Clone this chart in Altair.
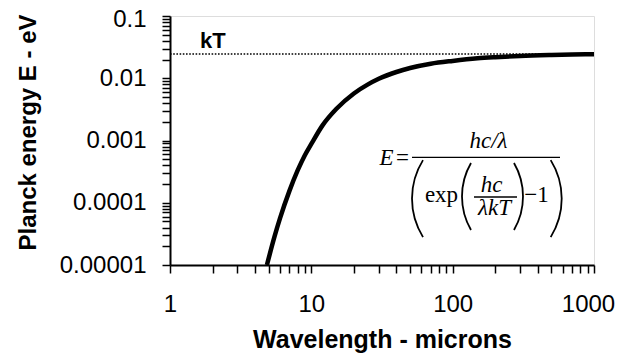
import math
import altair as alt
import pandas as pd

# ---- data ----
wavelength = [4.85, 5.5, 6, 7, 8, 9, 10, 12, 15, 20, 25, 30, 40, 50, 70,
              100, 150, 200, 300, 500, 700, 1000]
energy = [1.0e-5, 2.9e-5, 5.6e-5, 1.55e-4, 3.3e-4, 5.8e-4, 8.8e-4, 1.75e-3,
          3.2e-3, 5.7e-3, 7.9e-3, 9.8e-3, 0.0126, 0.0146, 0.0171, 0.0190,
          0.0209, 0.0218, 0.0228, 0.0236, 0.0240, 0.0243]
kT_value = 0.0246
kT_span = [1, 1000]
x_major = [1, 10, 100, 1000]
y_major = [0.00001, 0.0001, 0.001, 0.01, 0.1]

x_ticks = [m * 10 ** e for e in range(0, 3) for m in range(1, 10)] + [1000]
y_ticks = [float(f"{m}e{e}") for e in range(-5, -1) for m in range(1, 10)] + [0.1]

curve_df = pd.DataFrame({"lam": wavelength, "E": energy})
kt_df = pd.DataFrame({"lam": [kT_span[0]], "lam2": [kT_span[1]], "E": [kT_value]})

W, H = 424, 249
xs = alt.Scale(type="log", domain=[1, 1000], nice=False)
ys = alt.Scale(type="log", domain=[0.00001, 0.1], nice=False)

common_axis = dict(tickSize=8, tickWidth=1.5, tickColor="black", domainColor="black",
                   domainWidth=2, labelFontSize=24, labelColor="black",
                   labelFont="Liberation Sans", labelOverlap=False, labelFlush=False,
                   grid=False, titleFont="Liberation Sans", titleFontWeight="bold",
                   titleColor="black")

x_axis = alt.Axis(values=x_ticks, format="d",
                  labelExpr="indexof(" + str(x_major) + ", datum.value) >= 0 ? datum.label : ''",
                  labelOffset={"condition": {"test": "datum.value == 1000", "value": -6}, "value": 0},
                  labelPadding=19, title="Wavelength - microns", titleFontSize=25,
                  titleBaseline="alphabetic", titleY=82, **common_axis)
y_axis = alt.Axis(values=y_ticks, format=".5~f",
                  labelExpr="indexof([1e-05, 0.0001, 0.001, 0.01, 0.1], datum.value) >= 0 ? datum.label : ''",
                  labelOffset={"condition": {"test": "datum.value == 0.1", "value": 3.5}, "value": 0},
                  labelPadding=16, title="Planck energy E - eV", titleFontSize=24,
                  titleAngle=270, titleBaseline="alphabetic", titleAlign="center",
                  titleX=-135, titleY=116, **common_axis)

curve = alt.Chart(curve_df).mark_line(color="black", strokeWidth=4.5, interpolate="monotone").encode(
    x=alt.X("lam:Q", scale=xs, axis=x_axis),
    y=alt.Y("E:Q", scale=ys, axis=y_axis),
)
kt_line = alt.Chart(kt_df).mark_rule(color="black", strokeWidth=1.5, strokeDash=[1.6, 1.6]).encode(
    x=alt.X("lam:Q", scale=xs), x2="lam2:Q", y=alt.Y("E:Q", scale=ys)
)

layers = [kt_line, curve]


def text_layer(txt, x, y, size, font="Liberation Serif", style="normal", weight="normal", align="center"):
    return alt.Chart(pd.DataFrame({"t": [txt]})).mark_text(
        font=font, fontSize=size, fontStyle=style, fontWeight=weight, align=align,
        baseline="alphabetic", color="black"
    ).encode(text="t:N", x=alt.value(x), y=alt.value(y))


def bar_layer(x1, x2, y, w=1.3):
    return alt.Chart(pd.DataFrame({"t": [0]})).mark_rule(color="black", strokeWidth=w).encode(
        x=alt.value(x1), x2=alt.value(x2), y=alt.value(y))


def paren_layer(edge, yc, h, s, left=True, t=1.8):
    R = (h * h / 4 + s * s) / (2 * s)
    a = math.asin((h / 2) / R)
    if left:
        cx = edge + R
        mid = 3 * math.pi / 2
    else:
        cx = edge - R
        mid = math.pi / 2
    return alt.Chart(pd.DataFrame({"t": [0]})).mark_arc(color="black").encode(
        x=alt.value(cx), y=alt.value(yc),
        theta=alt.value(mid - a), theta2=alt.value(mid + a),
        radius=alt.value(R + t / 2), radius2=alt.value(R - t / 2))


# kT label
layers.append(text_layer("kT", 30, 32, 22, font="Liberation Sans", weight="bold", align="left"))

# formula
fs = 23
layers += [
    text_layer("E", 216.5, 149, fs, style="italic"),
    text_layer("=", 232.5, 149, fs),
    bar_layer(242, 390, 141.3),
    text_layer("hc/λ", 318.5, 132, fs, style="italic"),
    paren_layer(242, 182.6, 77, 11, left=True),
    paren_layer(391.7, 182.6, 77, 11, left=False),
    text_layer("exp", 271.5, 186, fs),
    paren_layer(292, 180.5, 67, 9, left=True),
    paren_layer(353, 180.5, 67, 9, left=False),
    text_layer("hc", 321.5, 176, fs, style="italic"),
    bar_layer(304, 347, 181),
    text_layer("λkT", 324.5, 199, fs, style="italic"),
    text_layer("−1", 366.5, 186, fs),
]

chart = alt.layer(*layers).properties(
    width=W, height=H,
    autosize=alt.AutoSizeParams(type="none"),
    padding={"left": 162, "top": 8, "right": 21, "bottom": 88},
).configure_view(stroke="black", strokeWidth=2).configure(font="Liberation Sans")

chart.save("out.html", embed_options={"renderer": "svg", "actions": False})
